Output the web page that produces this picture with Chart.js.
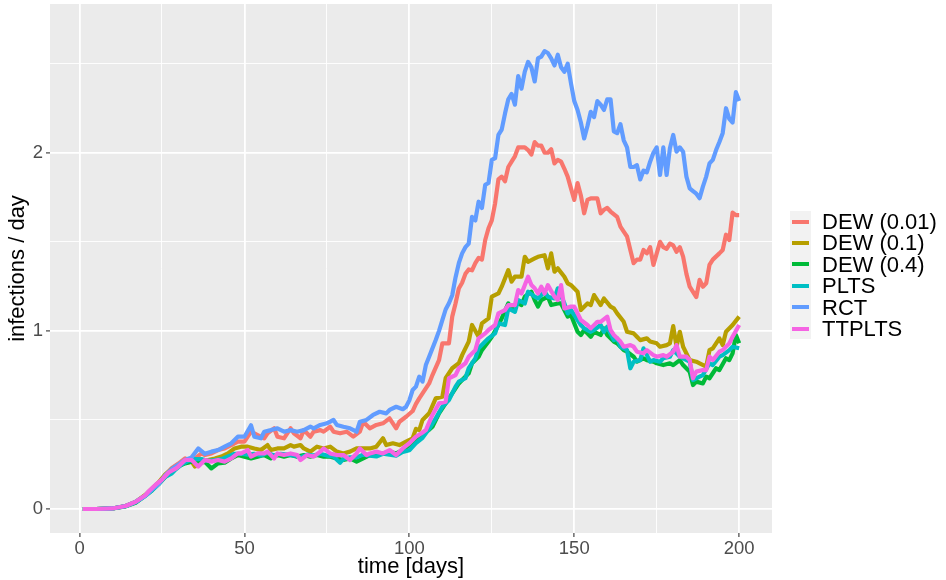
<!DOCTYPE html>
<html>
<head>
<meta charset="utf-8">
<script src="https://cdn.jsdelivr.net/npm/chart.js@4.4.1/dist/chart.umd.min.js"></script>
<style>
  html, body { margin: 0; padding: 0; background: #fff; }
  #wrap { position: relative; width: 946px; height: 580px; }
  #chart { position: absolute; left: 0; top: 0; }
  #legend { position: absolute; left: 790px; top: 211px; font-family: 'Liberation Sans', Arial, sans-serif; }
  .row { position: relative; height: 21.4px; }
  .key { position: absolute; left: 0; top: 0; width: 21px; height: 21.4px; background: #f2f2f2; }
  .key span { position: absolute; left: 2px; top: 8.7px; width: 17px; height: 4px; }
  .lab { position: absolute; left: 32px; top: 0; line-height: 21.4px; font-size: 22px; color: #000; white-space: nowrap; }
</style>
</head>
<body>
<div id="wrap">
  <canvas id="chart" width="946" height="580"></canvas>
  <div id="legend"></div>
</div>
<script>
// series names / colours (ggplot hue palette)
const seriesNames = ['DEW (0.01)', 'DEW (0.1)', 'DEW (0.4)', 'PLTS', 'RCT', 'TTPLTS'];
const seriesColors = ['#F8766D', '#B79F00', '#00BA38', '#00BFC4', '#619CFF', '#F564E3'];

const xTicks = [0, 25, 50, 75, 100, 125, 150, 175, 200];
const xLabels = [0, 50, 100, 150, 200];
const yTicks = [0, 0.5, 1, 1.5, 2, 2.5];
const yLabels = [0, 1, 2];

// [day, infections/day]
const dew001 = [[1,0],[5,0],[10,0.003],[14,0.017],[17,0.04],[20,0.078],[22,0.11],[24,0.145],[26,0.19],[28,0.23],[30,0.255],[32,0.284],[33,0.275],[35,0.284],[37,0.312],[38,0.303],[40,0.312],[42,0.331],[44,0.34],[46,0.359],[48,0.378],[50,0.378],[52,0.434],[54,0.415],[56,0.397],[57,0.425],[59,0.453],[60,0.406],[62,0.397],[64,0.453],[65,0.425],[67,0.397],[68,0.443],[70,0.406],[71,0.434],[73,0.443],[74,0.434],[76,0.462],[77,0.434],[79,0.425],[81,0.434],[83,0.406],[85,0.434],[86,0.49],[88,0.453],[90,0.472],[92,0.481],[94,0.509],[96,0.453],[97,0.49],[99,0.518],[101,0.55],[102,0.59],[103,0.621],[104,0.649],[106,0.705],[107,0.752],[109,0.836],[110,0.93],[112,0.93],[113,1.08],[114,1.154],[115,1.238],[116,1.27],[117,1.32],[118,1.345],[119,1.34],[120,1.38],[121,1.41],[122,1.40],[123,1.51],[124,1.576],[125,1.62],[126,1.716],[127,1.85],[128,1.866],[129,1.84],[130,1.92],[131,1.95],[132,1.98],[133,2.03],[135,2.03],[136,2.015],[137,1.99],[138,2.06],[139,2.04],[140,2.04],[141,2.0],[142,2.0],[143,2.02],[144,1.94],[145,1.96],[146,1.95],[147,1.91],[148,1.866],[149,1.80],[150,1.735],[151,1.83],[152,1.76],[153,1.66],[154,1.735],[155,1.744],[157,1.744],[158,1.66],[159,1.68],[160,1.69],[161,1.67],[163,1.64],[164,1.585],[165,1.557],[166,1.53],[167,1.454],[168,1.38],[169,1.40],[170,1.40],[171,1.454],[172,1.435],[173,1.47],[174,1.37],[175,1.435],[176,1.50],[177,1.47],[178,1.46],[179,1.49],[180,1.48],[181,1.444],[182,1.47],[183,1.417],[184,1.32],[185,1.248],[187,1.19],[188,1.286],[189,1.248],[190,1.267],[191,1.37],[192,1.40],[194,1.435],[195,1.454],[196,1.54],[197,1.51],[198,1.664],[199,1.65],[200,1.65]];

const dew01 = [[1,0],[5,0],[10,0.003],[14,0.017],[17,0.04],[20,0.08],[22,0.115],[24,0.15],[26,0.195],[28,0.225],[30,0.245],[32,0.26],[34,0.266],[35,0.238],[37,0.27],[39,0.275],[41,0.284],[43,0.294],[45,0.312],[47,0.34],[49,0.35],[51,0.35],[53,0.34],[55,0.331],[57,0.359],[58,0.331],[60,0.34],[62,0.34],[64,0.359],[65,0.35],[67,0.359],[68,0.34],[70,0.322],[72,0.35],[74,0.34],[76,0.35],[78,0.322],[80,0.312],[82,0.322],[84,0.34],[86,0.34],[88,0.34],[90,0.35],[92,0.397],[93,0.359],[95,0.369],[97,0.359],[99,0.378],[101,0.397],[102,0.45],[103,0.443],[104,0.50],[106,0.537],[108,0.621],[110,0.63],[111,0.734],[113,0.79],[115,0.818],[116,0.864],[118,0.94],[119,1.033],[121,0.967],[122,1.042],[124,1.07],[125,1.192],[127,1.21],[128,1.248],[130,1.341],[131,1.276],[132,1.304],[134,1.304],[135,1.416],[136,1.388],[138,1.407],[139,1.416],[141,1.425],[142,1.351],[143,1.435],[144,1.332],[145,1.351],[147,1.304],[148,1.267],[149,1.257],[151,1.22],[152,1.117],[154,1.154],[155,1.145],[156,1.201],[157,1.173],[158,1.145],[159,1.182],[161,1.136],[162,1.126],[163,1.098],[165,1.051],[166,0.995],[168,0.986],[169,0.967],[170,0.948],[172,0.958],[173,0.94],[175,0.93],[176,0.911],[178,0.92],[179,0.93],[180,1.027],[181,0.911],[182,0.995],[183,0.911],[185,0.836],[187,0.827],[188,0.818],[190,0.799],[191,0.892],[192,0.902],[194,0.958],[195,0.92],[196,0.995],[198,1.033],[200,1.08]];

const dew04 = [[1,0],[5,0],[10,0.003],[14,0.015],[17,0.035],[20,0.075],[22,0.105],[24,0.14],[26,0.18],[28,0.21],[30,0.24],[32,0.256],[34,0.266],[36,0.26],[38,0.265],[40,0.228],[42,0.256],[44,0.26],[46,0.284],[48,0.303],[50,0.294],[52,0.284],[54,0.294],[56,0.303],[58,0.284],[60,0.303],[62,0.294],[64,0.303],[66,0.294],[68,0.303],[70,0.294],[72,0.303],[74,0.294],[76,0.294],[78,0.284],[80,0.275],[82,0.284],[84,0.266],[86,0.284],[88,0.303],[90,0.303],[92,0.312],[94,0.322],[96,0.312],[98,0.331],[100,0.359],[102,0.387],[104,0.42],[106,0.445],[107,0.462],[109,0.537],[111,0.593],[113,0.649],[115,0.705],[116,0.724],[118,0.762],[119,0.818],[121,0.855],[122,0.892],[124,0.94],[125,0.967],[127,1.033],[128,1.07],[130,1.154],[131,1.126],[133,1.154],[134,1.145],[135,1.192],[137,1.22],[138,1.173],[139,1.136],[140,1.173],[142,1.192],[143,1.145],[145,1.154],[146,1.154],[148,1.08],[149,1.089],[151,0.995],[152,0.977],[153,1.005],[155,0.967],[156,0.995],[158,0.977],[159,1.014],[160,0.977],[162,0.94],[163,0.93],[165,0.892],[166,0.883],[168,0.855],[169,0.827],[171,0.846],[172,0.836],[174,0.827],[175,0.818],[177,0.808],[179,0.818],[180,0.808],[182,0.836],[183,0.808],[185,0.771],[186,0.696],[187,0.715],[189,0.705],[190,0.743],[191,0.734],[193,0.79],[194,0.78],[196,0.846],[197,0.836],[198,0.874],[199,0.977],[200,0.93]];

const plts = [[1,0],[5,0],[10,0.003],[14,0.016],[17,0.038],[20,0.075],[22,0.105],[24,0.14],[26,0.18],[28,0.20],[29,0.22],[31,0.25],[33,0.27],[35,0.28],[37,0.28],[39,0.27],[41,0.275],[43,0.28],[45,0.295],[47,0.31],[49,0.31],[51,0.305],[53,0.31],[55,0.30],[57,0.315],[59,0.30],[61,0.31],[63,0.305],[65,0.30],[67,0.29],[69,0.305],[71,0.30],[73,0.31],[75,0.30],[77,0.295],[79,0.26],[80,0.28],[82,0.29],[84,0.29],[86,0.305],[88,0.30],[90,0.295],[92,0.31],[94,0.305],[96,0.30],[98,0.32],[100,0.33],[102,0.37],[104,0.40],[106,0.45],[108,0.509],[110,0.574],[112,0.612],[114,0.687],[115,0.715],[117,0.734],[118,0.79],[120,0.846],[121,0.902],[123,0.94],[124,0.958],[126,0.986],[127,1.042],[129,1.033],[130,1.126],[132,1.107],[133,1.173],[135,1.154],[136,1.22],[138,1.192],[139,1.182],[141,1.22],[142,1.192],[144,1.182],[145,1.239],[147,1.154],[148,1.098],[149,1.117],[150,1.089],[152,1.033],[153,1.014],[155,0.995],[156,1.005],[158,1.033],[159,0.995],[160,1.023],[162,0.948],[163,0.958],[164,0.911],[166,0.892],[167,0.79],[168,0.827],[170,0.836],[171,0.902],[173,0.827],[174,0.836],[176,0.827],[177,0.846],[179,0.855],[180,0.892],[182,0.855],[183,0.846],[185,0.827],[186,0.724],[188,0.743],[189,0.752],[191,0.818],[192,0.808],[194,0.855],[195,0.864],[197,0.892],[198,0.911],[200,0.902]];

const rct = [[1,0],[5,0],[10,0.003],[14,0.017],[17,0.04],[20,0.075],[22,0.11],[24,0.14],[26,0.19],[28,0.225],[30,0.25],[32,0.275],[34,0.29],[36,0.34],[38,0.31],[40,0.322],[42,0.331],[44,0.35],[46,0.369],[48,0.406],[50,0.406],[52,0.47],[53,0.406],[55,0.397],[56,0.434],[58,0.443],[60,0.453],[62,0.434],[64,0.443],[66,0.434],[68,0.443],[70,0.462],[71,0.453],[73,0.472],[75,0.481],[77,0.50],[78,0.472],[80,0.462],[82,0.453],[84,0.434],[85,0.49],[87,0.50],[89,0.528],[91,0.546],[93,0.537],[94,0.556],[96,0.574],[98,0.56],[99,0.574],[100,0.61],[101,0.668],[102,0.687],[103,0.743],[104,0.715],[105,0.808],[106,0.855],[108,0.949],[109,1.0],[110,1.06],[111,1.12],[112,1.155],[113,1.2],[114,1.30],[115,1.38],[116,1.435],[117,1.47],[118,1.49],[119,1.64],[120,1.62],[121,1.725],[122,1.69],[123,1.82],[124,1.83],[125,1.96],[126,1.97],[127,2.10],[128,2.13],[129,2.22],[130,2.30],[131,2.33],[132,2.27],[133,2.43],[134,2.36],[135,2.455],[136,2.51],[137,2.48],[138,2.40],[139,2.53],[140,2.54],[141,2.57],[142,2.56],[143,2.53],[144,2.49],[145,2.55],[146,2.48],[147,2.455],[148,2.50],[149,2.39],[150,2.29],[151,2.24],[152,2.17],[153,2.08],[154,2.15],[155,2.23],[156,2.20],[157,2.29],[158,2.27],[159,2.24],[160,2.30],[161,2.30],[162,2.12],[163,2.11],[164,2.16],[165,2.07],[166,2.03],[167,1.92],[168,1.92],[169,1.93],[170,1.85],[171,1.90],[172,1.89],[173,1.95],[174,2.00],[175,2.03],[176,1.875],[177,2.03],[178,1.875],[179,2.025],[180,2.10],[181,2.006],[182,2.03],[183,2.006],[184,1.866],[185,1.80],[186,1.785],[187,1.77],[188,1.745],[189,1.81],[190,1.866],[191,1.94],[192,1.96],[193,2.015],[194,2.06],[195,2.11],[196,2.25],[197,2.19],[198,2.17],[199,2.34],[200,2.29]];

const ttplts = [[1,0],[5,0],[10,0.003],[14,0.017],[17,0.04],[20,0.078],[21,0.1],[23,0.135],[25,0.165],[27,0.205],[29,0.225],[30,0.238],[32,0.275],[34,0.275],[36,0.238],[38,0.275],[40,0.266],[42,0.275],[44,0.266],[46,0.284],[48,0.312],[49,0.312],[51,0.331],[52,0.294],[54,0.312],[56,0.312],[57,0.322],[59,0.284],[60,0.312],[62,0.303],[64,0.312],[66,0.303],[67,0.275],[69,0.303],[71,0.294],[73,0.322],[74,0.34],[76,0.312],[78,0.303],[80,0.303],[82,0.275],[84,0.312],[85,0.34],[87,0.303],[88,0.312],[90,0.322],[92,0.312],[94,0.331],[96,0.303],[98,0.34],[100,0.369],[102,0.406],[104,0.43],[105,0.443],[107,0.528],[109,0.593],[111,0.602],[112,0.734],[114,0.752],[115,0.79],[117,0.818],[118,0.855],[120,0.892],[121,0.958],[123,0.986],[124,1.005],[126,1.033],[127,1.098],[129,1.117],[130,1.145],[132,1.145],[133,1.229],[134,1.21],[136,1.304],[137,1.257],[138,1.239],[139,1.21],[140,1.248],[141,1.21],[142,1.257],[144,1.192],[145,1.173],[146,1.257],[147,1.126],[149,1.136],[150,1.136],[152,1.061],[154,1.033],[155,1.014],[157,1.051],[158,1.051],[160,1.08],[161,1.005],[162,0.977],[164,0.94],[165,0.911],[167,0.92],[168,0.911],[169,0.883],[171,0.874],[172,0.892],[174,0.864],[175,0.855],[177,0.864],[178,0.855],[180,0.883],[181,0.92],[182,0.855],[184,0.855],[185,0.836],[186,0.734],[187,0.771],[189,0.78],[190,0.78],[191,0.855],[192,0.836],[194,0.883],[195,0.892],[197,0.93],[198,0.967],[200,1.033]];

const seriesData = [dew001, dew01, dew04, plts, rct, ttplts];

Chart.defaults.font.family = "'Liberation Sans', Arial, sans-serif";

const panelBg = {
  id: 'panelBg',
  beforeDraw(chart) {
    const { ctx, chartArea: a } = chart;
    ctx.save();
    ctx.fillStyle = '#ebebeb';
    ctx.fillRect(a.left, a.top, a.right - a.left, a.bottom - a.top);
    ctx.restore();
  }
};

const isMajor = (list, v) => list.some(t => Math.abs(t - v) < 1e-9);

new Chart(document.getElementById('chart'), {
  type: 'line',
  data: {
    datasets: seriesNames.map((name, i) => ({
      label: name,
      data: seriesData[i].map(p => ({ x: p[0], y: p[1] })),
      borderColor: seriesColors[i],
      borderWidth: 4.2,
      borderJoinStyle: 'round',
      pointRadius: 0,
      tension: 0,
      fill: false,
      order: seriesNames.length - i
    }))
  },
  options: {
    responsive: false,
    animation: false,
    layout: { padding: { top: 4, right: 174, left: 0, bottom: 0 } },
    plugins: { legend: { display: false }, tooltip: { enabled: false } },
    scales: {
      x: {
        type: 'linear',
        min: -8.95,
        max: 209.95,
        afterBuildTicks: axis => { axis.ticks = xTicks.map(v => ({ value: v })); },
        afterFit: s => { s.height = 47; s.paddingLeft = 0; s.paddingRight = 0; },
        border: { display: false },
        grid: {
          color: '#ffffff',
          lineWidth: c => isMajor(xLabels, c.tick.value) ? 1.8 : 0.9,
          tickLength: 4,
          tickWidth: 1.1,
          tickColor: c => isMajor(xLabels, c.tick.value) ? '#333333' : 'rgba(0,0,0,0)'
        },
        ticks: {
          autoSkip: false,
          maxRotation: 0,
          padding: 1,
          color: '#4d4d4d',
          font: { size: 18.5 },
          callback: v => isMajor(xLabels, v) ? String(v) : ''
        },
        title: {
          display: true,
          text: 'time [days]',
          color: '#000',
          font: { size: 22 },
          padding: { top: 0, bottom: 0 }
        }
      },
      y: {
        type: 'linear',
        min: -0.1347,
        max: 2.835,
        afterBuildTicks: axis => { axis.ticks = yTicks.map(v => ({ value: v })); },
        afterFit: s => { s.width = 50; s.paddingTop = 0; s.paddingBottom = 0; },
        border: { display: false },
        grid: {
          color: '#ffffff',
          lineWidth: c => isMajor(yLabels, c.tick.value) ? 1.8 : 0.9,
          tickLength: 4,
          tickWidth: 1.1,
          tickColor: c => isMajor(yLabels, c.tick.value) ? '#333333' : 'rgba(0,0,0,0)'
        },
        ticks: {
          autoSkip: false,
          padding: 3,
          color: '#4d4d4d',
          font: { size: 18.5 },
          callback: v => isMajor(yLabels, v) ? String(v) : ''
        },
        title: {
          display: true,
          text: 'infections / day',
          color: '#000',
          font: { size: 22 },
          padding: { top: 5, bottom: 0 }
        }
      }
    }
  },
  plugins: [panelBg]
});

// legend on the right, ggplot style
const legend = document.getElementById('legend');
seriesNames.forEach((name, i) => {
  const row = document.createElement('div');
  row.className = 'row';
  row.innerHTML = `<div class="key"><span style="background:${seriesColors[i]}"></span></div><div class="lab">${name}</div>`;
  legend.appendChild(row);
});
</script>
</body>
</html>
